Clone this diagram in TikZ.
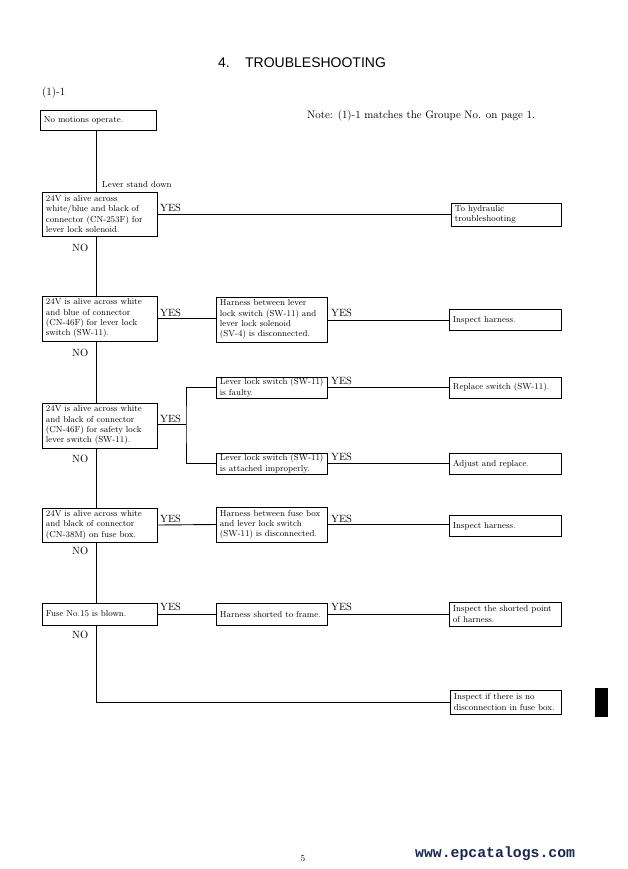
\documentclass[tikz,border=0pt]{standalone}
\usepackage{fontspec}
\newfontfamily\titlefont{Liberation Sans}
\newfontfamily\urlfont{Liberation Mono}
\definecolor{urlblue}{RGB}{22,38,78}
\newcommand\bxfont{\fontsize{8.7}{10.3}\selectfont}
\newcommand\lblfont{\fontsize{10.5}{12}\selectfont}
\tikzset{
  box/.style={draw, line width=0.9pt, inner xsep=3.5pt, inner ysep=1pt, align=left, anchor=west, font=\bxfont},
  lbl/.style={inner sep=0pt, font=\lblfont},
  conn/.style={line width=0.9pt}
}
\begin{document}
\begin{tikzpicture}[x=1pt,y=-1pt]
\useasboundingbox (0,0) rectangle (628,869);
% title and notes
\node[inner sep=0pt, anchor=base, font=\titlefont\fontsize{14}{16}\selectfont] (title) at (302,68) {4.\hspace{1.1em}TROUBLESHOOTING};
\node[inner sep=0pt, anchor=base west, font=\fontsize{11.2}{13}\selectfont] (grp) at (42,96) {(1)-1};
\node[inner sep=0pt, anchor=base west, font=\fontsize{10.9}{13}\selectfont] (note) at (307,119) {Note: (1)-1 matches the Groupe No. on page 1.};
% trunk x
\coordinate (t) at (96,0);
% left column
\node[box, text width=109pt, minimum width=116pt, minimum height=20pt] (n0) at (40,120) {No motions operate.};
\node[box, text width=108pt, minimum width=115pt, minimum height=44pt] (b1) at (42,214) {24V is alive across\\white/blue and black of\\connector (CN-253F) for\\lever lock solenoid.};
\node[box, text width=108pt, minimum width=115pt, minimum height=45pt] (b2) at (42,318.5) {24V is alive across white\\and blue of connector\\(CN-46F) for lever lock\\switch (SW-11).};
\node[box, text width=108pt, minimum width=115pt, minimum height=45pt] (b3) at (42,425.5) {24V is alive across white\\and black of connector\\(CN-46F) for safety lock\\lever switch (SW-11).};
\node[box, text width=108pt, minimum width=115pt, minimum height=34pt] (b4) at (42,525) {24V is alive across white\\and black of connector\\(CN-38M) on fuse box.};
\node[box, text width=108pt, minimum width=115pt, minimum height=22pt] (b5) at (42,614) {Fuse No.15 is blown.};
% middle column
\node[box, text width=104pt, minimum width=111pt, minimum height=45pt] (m2) at (216,319.5) {Harness between lever\\\mbox{lock switch (SW-11) and}\\lever lock solenoid\\\mbox{(SV-4) is disconnected.}};
\node[box, text width=104pt, minimum width=111pt, minimum height=21pt] (f1) at (216,387.5) {\mbox{Lever lock switch (SW-11)}\\is faulty.};
\node[box, text width=104pt, minimum width=111pt, minimum height=21pt] (f2) at (216,463.5) {\mbox{Lever lock switch (SW-11)}\\is attached improperly.};
\node[box, text width=104pt, minimum width=111pt, minimum height=35pt] (m4) at (216,524.5) {\mbox{Harness between fuse box}\\and lever lock switch\\\mbox{(SW-11) is disconnected.}};
\node[box, text width=104pt, minimum width=111pt, minimum height=22pt] (m5) at (216,614) {\mbox{Harness shorted to frame.}};
% right column
\node[box, text width=103pt, minimum width=110pt, minimum height=23pt] (r1) at (451,214.5) {To hydraulic\\troubleshooting};
\node[box, text width=105pt, minimum width=112pt, minimum height=21pt] (r2) at (449,320) {Inspect harness.};
\node[box, text width=105pt, minimum width=112pt, minimum height=21pt] (r3) at (449,387.5) {Replace switch (SW-11).};
\node[box, text width=105pt, minimum width=112pt, minimum height=21pt] (r4) at (449,464) {Adjust and replace.};
\node[box, text width=105pt, minimum width=112pt, minimum height=21pt] (r5) at (449,526) {Inspect harness.};
\node[box, text width=105pt, minimum width=112pt, minimum height=24pt] (r6) at (449,614) {\mbox{Inspect the shorted point}\\of harness.};
\node[box, text width=104pt, minimum width=111pt, minimum height=24pt] (fin) at (450,702) {Inspect if there is no\\\mbox{disconnection in fuse box.}};
% trunk
\draw[conn] (n0.south -| t) -- (b1.north -| t);
\draw[conn] (b1.south -| t) -- (b2.north -| t);
\draw[conn] (b2.south -| t) -- (b3.north -| t);
\draw[conn] (b3.south -| t) -- (b4.north -| t);
\draw[conn] (b4.south -| t) -- (b5.north -| t);
\draw[conn] (b5.south -| t) |- (fin.west);
% yes branches
\draw[conn] (b1.east) -- (b1.east -| r1.west);
\draw[conn] (b2.east) -- (b2.east -| m2.west);
\draw[conn] (m2.east |- r2.west) -- (r2.west);
\coordinate (br) at (186,424);
\draw[conn] (b3.east |- br) -- (br);
\draw[conn] (f1.west) -| (br) |- (f2.west);
\draw[conn] (f1.east) -- (r3.west);
\draw[conn] (f2.east) -- (f2.east -| r4.west);
\draw[conn] (b4.east) -- (m4.west);
\draw[conn] (m4.east) -- (m4.east -| r5.west);
\draw[conn] (b5.east) -- (m5.west);
\draw[conn] (m5.east) -- (r6.west);
% labels
\node[inner sep=0pt, anchor=base west, font=\bxfont] (lsd) at (102,187) {Lever stand down};
\node[lbl, anchor=base west] (y1) at (160,211) {YES};
\node[lbl, anchor=base west] (y2) at (160,316) {YES};
\node[lbl, anchor=base west] (y2b) at (331,316) {YES};
\node[lbl, anchor=base west] (y3) at (160,422) {YES};
\node[lbl, anchor=base west] (y3a) at (331,384) {YES};
\node[lbl, anchor=base west] (y3b) at (331,460) {YES};
\node[lbl, anchor=base west] (y4) at (160,522) {YES};
\node[lbl, anchor=base west] (y4b) at (331,522) {YES};
\node[lbl, anchor=base west] (y5) at (160,610) {YES};
\node[lbl, anchor=base west] (y5b) at (331,610) {YES};
\node[lbl, anchor=base west] (no1) at (72,251) {NO};
\node[lbl, anchor=base west] (no2) at (72,356) {NO};
\node[lbl, anchor=base west] (no3) at (72,462) {NO};
\node[lbl, anchor=base west] (no4) at (72,554) {NO};
\node[lbl, anchor=base west] (no5) at (72,638) {NO};
% side tab and footer
\fill[black] (595,688) rectangle (608,717);
\node[inner sep=0pt, anchor=base, font=\fontsize{9}{11}\selectfont] (pg) at (303,861) {5};
\node[inner sep=0pt, anchor=base west, text=urlblue, font=\urlfont\bfseries\fontsize{14.8}{16}\selectfont] (url) at (415,857) {www.epcatalogs.com};
\end{tikzpicture}
\end{document}
